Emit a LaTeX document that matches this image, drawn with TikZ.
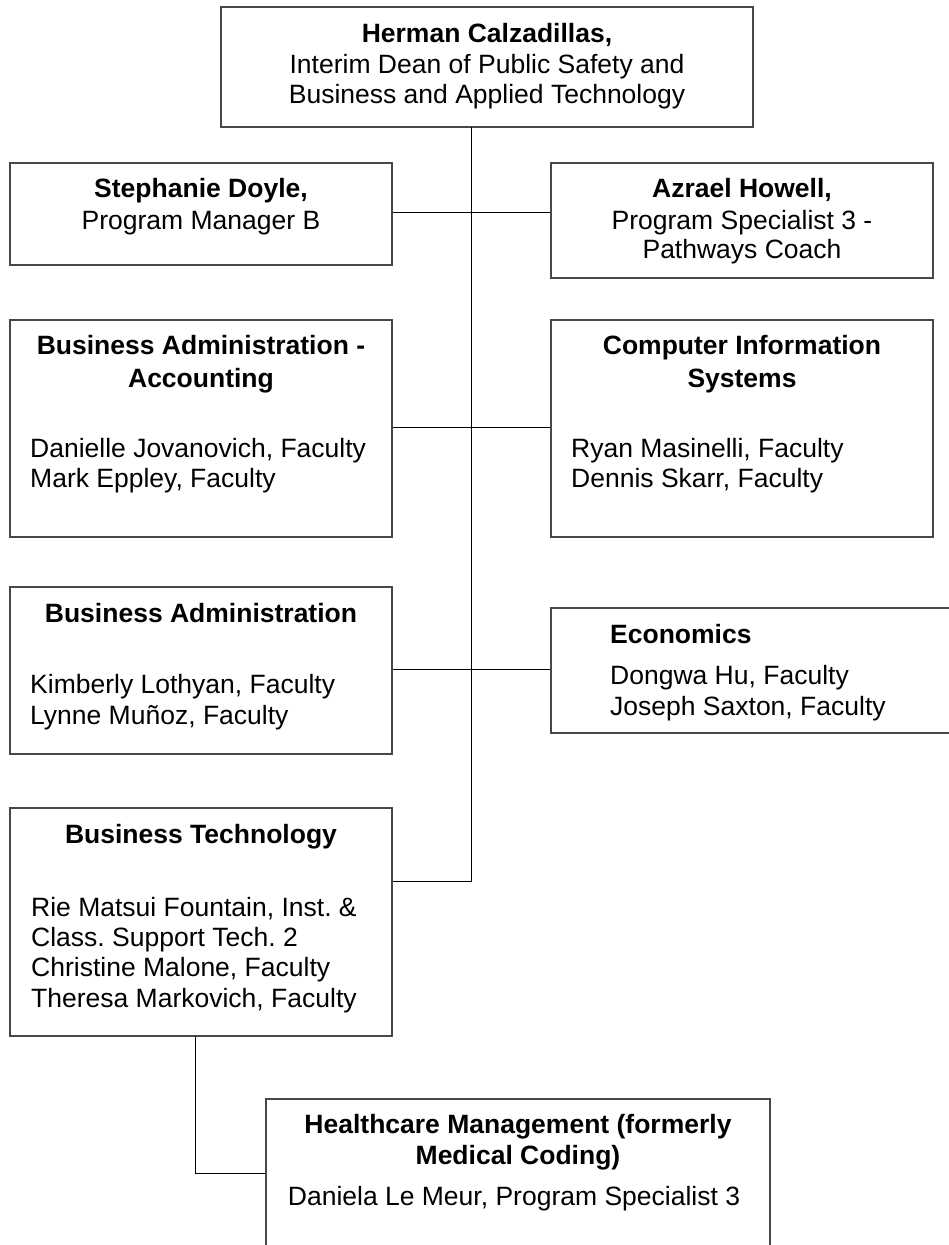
\documentclass[tikz,border=0pt]{standalone}
\usepackage{fontspec}
\setmainfont{Liberation Sans}
\frenchspacing
\begin{document}
\begin{tikzpicture}[x=1pt,y=-1pt,
  box/.style={draw=black!72, line width=1.2pt, inner sep=0pt},
  conn/.style={draw=black, line width=1pt},
  ttl/.style={font=\fontsize{26.5}{30.5}\selectfont\bfseries, anchor=base, inner sep=0pt},
  txc/.style={font=\fontsize{26.5}{30.5}\selectfont, anchor=base, inner sep=0pt},
  txl/.style={font=\fontsize{26.5}{30.5}\selectfont, anchor=base west, inner sep=0pt},
  ttll/.style={font=\fontsize{26.5}{30.5}\selectfont\bfseries, anchor=base west, inner sep=0pt}]
\useasboundingbox (0,0) rectangle (948,1245);
\fill[white] (0,0) rectangle (948,1245);

% boxes
\node[box, minimum width=532pt, minimum height=120pt] (dean) at (487,67) {};
\node[box, minimum width=382pt, minimum height=102pt] (sd) at (201,214) {};
\node[box, minimum width=382pt, minimum height=115pt] (ah) at (742,220.5) {};
\node[box, minimum width=382pt, minimum height=217pt] (baa) at (201,428.5) {};
\node[box, minimum width=382pt, minimum height=217pt] (cis) at (742,428.5) {};
\node[box, minimum width=382pt, minimum height=167pt] (ba) at (201,670.5) {};
\node[box, minimum width=409pt, minimum height=125pt] (eco) at (755.5,670.5) {};
\node[box, minimum width=382pt, minimum height=228pt] (bt) at (201,922) {};
\node[box, minimum width=504pt, minimum height=161pt] (hm) at (518,1179.5) {};

% connector junctions
\coordinate (j0) at (471,127);
\coordinate (j1) at (471,212);
\coordinate (j2) at (471,427);
\coordinate (j3) at (471,669);
\coordinate (j4) at (471,881);
\coordinate (j5) at (195,1173);

\draw[conn] (j0) -- (j4) -- (j4 -| bt.east);
\draw[conn] (j1 -| sd.east) -- (j1 -| ah.west);
\draw[conn] (j2 -| baa.east) -- (j2 -| cis.west);
\draw[conn] (j3 -| ba.east) -- (j3 -| eco.west);
\draw[conn] (j5 |- bt.south) -- (j5) -- (j5 -| hm.west);

% texts
\node[ttl] (dean1) at (487,42) {Herman Calzadillas,};
\node[txc] (dean2) at (487,73) {Interim Dean of Public Safety and};
\node[txc] (dean3) at (487,103) {Business and Applied Technology};

\node[ttl] (sd1) at (201,197) {Stephanie Doyle,};
\node[txc] (sd2) at (201,229) {Program Manager B};

\node[ttl] (ah1) at (742,197) {Azrael Howell,};
\node[txc] (ah2) at (742,229) {Program Specialist 3 -};
\node[txc] (ah3) at (742,258) {Pathways Coach};

\node[ttl] (baa1) at (201,354) {Business Administration -};
\node[ttl] (baa2) at (201,387) {Accounting};
\node[txl] (baa3) at (30,457) {Danielle Jovanovich, Faculty};
\node[txl] (baa4) at (30,487) {Mark Eppley, Faculty};

\node[ttl] (cis1) at (742,354) {Computer Information};
\node[ttl] (cis2) at (742,387) {Systems};
\node[txl] (cis3) at (571,457) {Ryan Masinelli, Faculty};
\node[txl] (cis4) at (571,487) {Dennis Skarr, Faculty};

\node[ttl] (ba1) at (201,622) {Business Administration};
\node[txl] (ba2) at (30,693) {Kimberly Lothyan, Faculty};
\node[txl] (ba3) at (30,724) {Lynne Muñoz, Faculty};

\node[ttll] (eco1) at (610,643) {Economics};
\node[txl] (eco2) at (610,684) {Dongwa Hu, Faculty};
\node[txl] (eco3) at (610,715) {Joseph Saxton, Faculty};

\node[ttl] (bt1) at (201,843) {Business Technology};
\node[txl] (bt2) at (31,916) {Rie Matsui Fountain, Inst. \&};
\node[txl] (bt3) at (31,946) {Class. Support Tech. 2};
\node[txl] (bt4) at (31,976) {Christine Malone, Faculty};
\node[txl] (bt5) at (31,1007) {Theresa Markovich, Faculty};

\node[ttl] (hm1) at (518,1133) {Healthcare Management (formerly};
\node[ttl] (hm2) at (518,1164) {Medical Coding)};
\node[txc] (hm3) at (514,1205) {Daniela Le Meur, Program Specialist 3};
\end{tikzpicture}
\end{document}
